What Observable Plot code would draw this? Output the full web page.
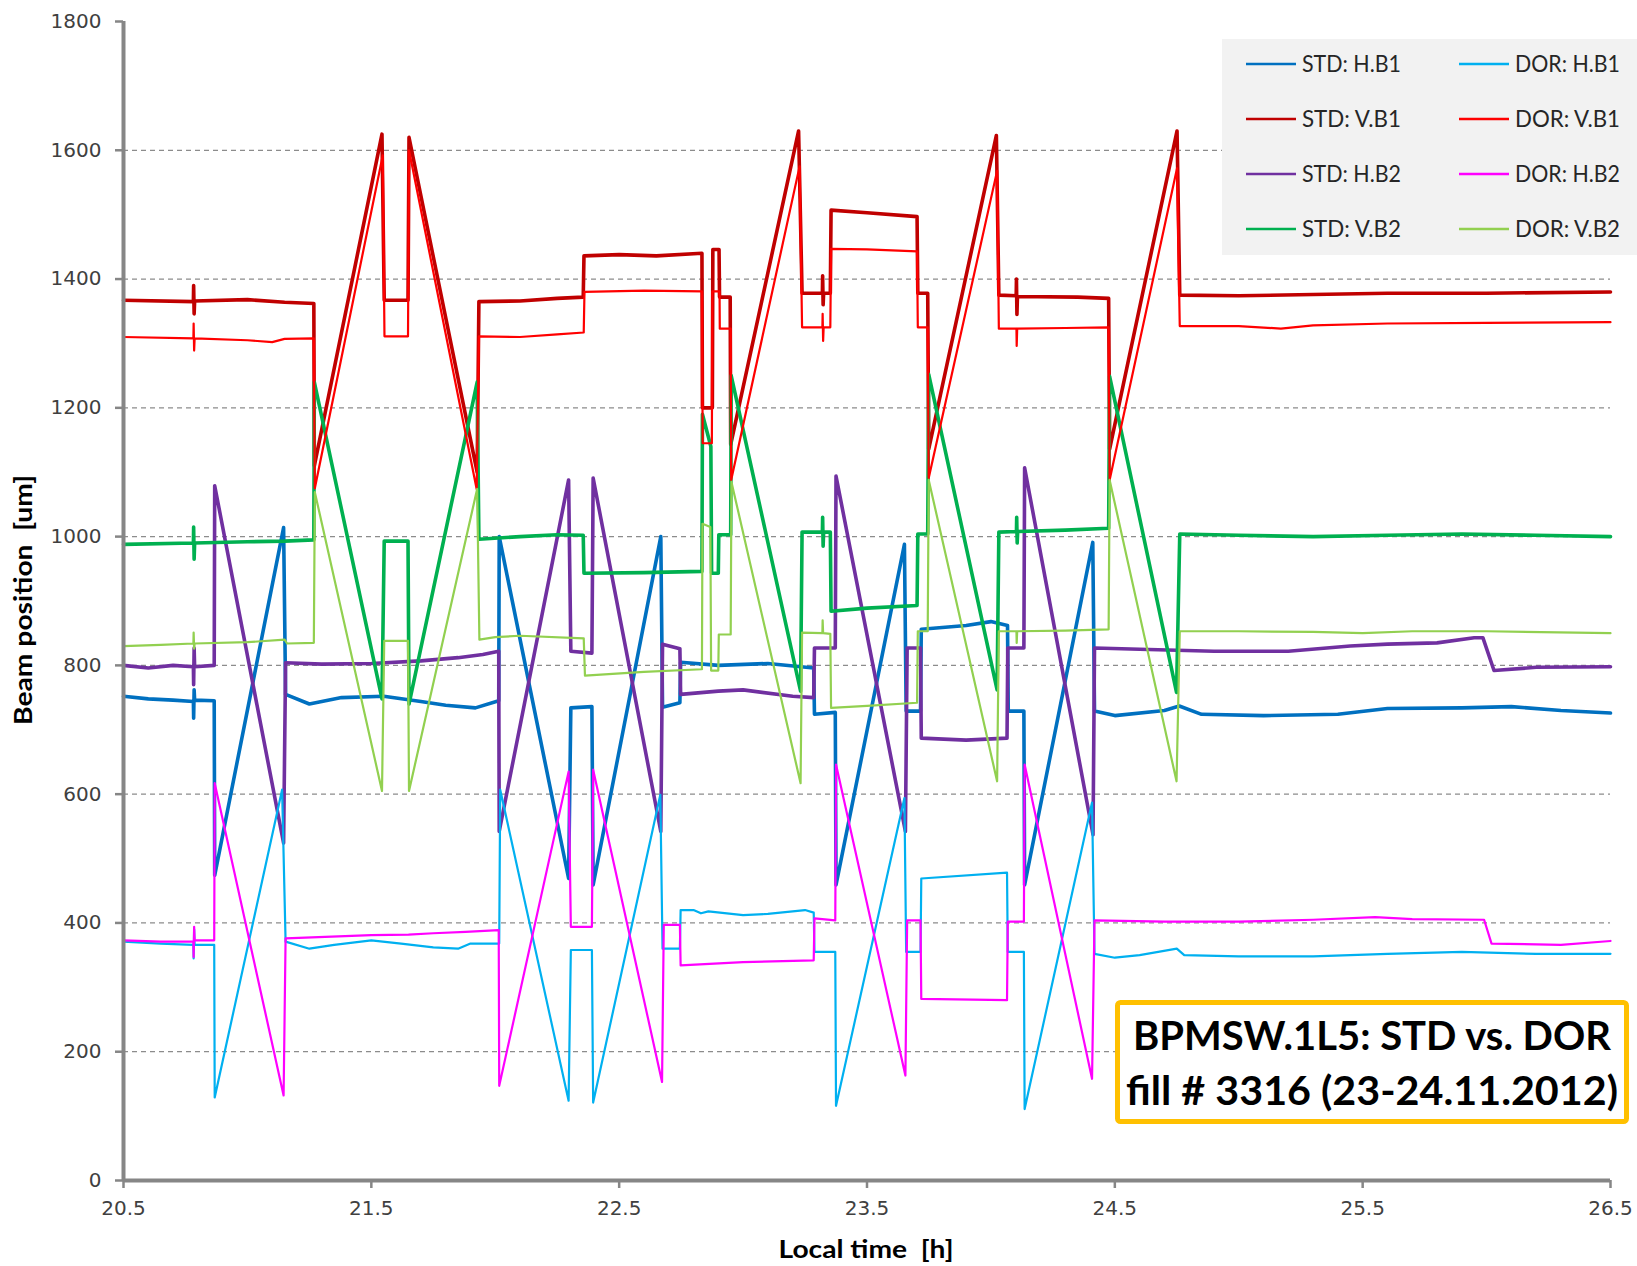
<!DOCTYPE html>
<html><head><meta charset="utf-8">
<script src="https://cdn.jsdelivr.net/npm/d3@7"></script>
<script src="https://cdn.jsdelivr.net/npm/@observablehq/plot@0.6"></script>
<style>
body{margin:0;background:#fff;}
#chart{position:relative;width:1637px;height:1266px;}
</style></head><body><div id="chart"></div>
<script>
// ---- axis ticks ----
const xTicks = [20.5, 21.5, 22.5, 23.5, 24.5, 25.5, 26.5];
const yTicks = [0, 200, 400, 600, 800, 1000, 1200, 1400, 1600, 1800];
const gridLines = [200, 400, 600, 800, 1000, 1200, 1400, 1600];

// ---- series: [local time h, beam position um] ----
const stdHB1 = [[20.5,752],[20.6,748],[20.7,746],[20.782,744],[20.783,718],[20.785,762],[20.787,746],[20.866,745],[20.868,474],[21.146,1014],[21.154,755],[21.25,740],[21.38,750],[21.55,752],[21.7,744],[21.8,738],[21.92,734],[22.014,745],
 [22.016,1000],[22.296,469],[22.305,734],[22.39,736],[22.395,459],[22.668,1000],[22.675,735],[22.745,742],[22.748,805],[22.9,800],[23.1,803],[23.285,796],[23.288,724],[23.372,727],[23.375,459],[23.651,988],[23.658,729],[23.716,729],[23.719,856],[23.9,862],[24.0,868],[24.067,862],[24.07,729],[24.133,729],[24.136,459],[24.411,991],[24.418,729],[24.5,722],[24.7,730],[24.76,737],[24.85,724],[25.1,722],[25.4,724],[25.6,733],[25.9,734],[26.1,736],[26.3,730],[26.5,726]];
const dorHB1 = [[20.5,371],[20.65,368],[20.782,366],[20.783,345],[20.785,390],[20.787,366],[20.866,366],[20.868,129],[21.14,607],[21.154,371],[21.25,360],[21.35,366],[21.5,373],[21.62,368],[21.75,362],[21.85,360],[21.9,368],[22.016,368],
 [22.02,607],[22.296,124],[22.305,358],[22.39,358],[22.395,121],[22.666,599],[22.675,360],[22.745,360],[22.748,420],[22.8,420],[22.83,415],[22.86,418],[23.0,412],[23.1,414],[23.25,420],[23.285,416],[23.288,355],[23.372,355],[23.375,116],[23.651,594],[23.658,355],[23.716,355],[23.719,469],[24.065,478],[24.068,355],[24.133,355],[24.136,111],[24.408,587],[24.418,352],[24.5,346],[24.6,350],[24.75,360],[24.78,350],[25.0,348],[25.3,348],[25.6,352],[25.9,355],[26.2,352],[26.5,352]];
const stdVB1 = [[20.5,1367],[20.782,1365],[20.783,1390],[20.785,1346],[20.787,1366],[21.0,1368],[21.15,1364],[21.268,1362],[21.27,1110],[21.543,1625],[21.552,1367],[21.648,1367],[21.652,1620],[21.927,1100],[21.934,1365],[22.1,1366],[22.25,1370],[22.355,1372],
 [22.358,1436],[22.5,1438],[22.65,1436],[22.834,1440],[22.836,1200],[22.876,1200],[22.878,1446],[22.903,1446],[22.905,1372],[22.948,1372],[22.95,1143],[23.224,1630],[23.238,1378],[23.32,1378],[23.321,1405],[23.323,1360],[23.325,1378],[23.352,1378],[23.355,1507],[23.5,1503],[23.702,1497],[23.705,1378],[23.745,1378],[23.749,1136],[24.022,1623],[24.032,1375],[24.102,1374],[24.103,1400],[24.105,1345],[24.107,1373],[24.35,1372],[24.475,1370],[24.479,1136],[24.751,1630],[24.762,1375],[25.0,1374],[25.3,1376],[25.6,1378],[26.0,1378],[26.5,1380]];
const dorVB1 = [[20.5,1310],[20.782,1308],[20.783,1331],[20.785,1289],[20.787,1308],[21.0,1305],[21.1,1302],[21.15,1307],[21.268,1308],[21.272,1075],[21.546,1592],[21.553,1311],[21.648,1311],[21.652,1600],[21.925,1074],[21.934,1311],[22.1,1310],[22.25,1314],[22.357,1317],
 [22.36,1380],[22.6,1382],[22.834,1381],[22.837,1145],[22.874,1145],[22.876,1381],[22.905,1381],[22.906,1323],[22.95,1323],[22.952,1088],[23.228,1575],[23.238,1325],[23.32,1325],[23.321,1346],[23.323,1304],[23.325,1325],[23.352,1325],[23.355,1447],[23.5,1446],[23.702,1443],[23.705,1325],[23.745,1325],[23.749,1091],[24.025,1568],[24.032,1323],[24.103,1323],[24.104,1296],[24.106,1323],[24.3,1324],[24.475,1325],[24.479,1088],[24.751,1572],[24.762,1327],[25.0,1327],[25.17,1323],[25.3,1328],[25.6,1331],[26.0,1332],[26.5,1333]];
const stdHB2 = [[20.5,800],[20.6,796],[20.7,800],[20.782,798],[20.783,770],[20.785,827],[20.787,798],[20.866,800],[20.868,1079],[21.146,524],[21.154,804],[21.3,802],[21.5,803],[21.7,807],[21.85,812],[21.95,817],[22.014,822],
 [22.016,542],[22.296,1088],[22.305,822],[22.39,819],[22.395,1091],[22.668,542],[22.675,833],[22.745,826],[22.748,755],[22.9,760],[23.0,762],[23.2,752],[23.285,750],[23.288,827],[23.372,827],[23.375,1094],[23.655,542],[23.662,827],[23.716,827],[23.719,687],[23.9,684],[24.065,687],[24.068,827],[24.133,827],[24.136,1107],[24.412,537],[24.418,827],[24.6,825],[24.9,822],[25.2,822],[25.45,830],[25.6,833],[25.8,835],[25.95,843],[25.985,843],[26.03,792],[26.2,797],[26.5,798]];
const dorHB2 = [[20.5,373],[20.65,371],[20.782,371],[20.783,347],[20.785,394],[20.787,373],[20.866,373],[20.868,617],[21.146,132],[21.154,376],[21.5,381],[21.65,382],[21.75,384],[21.88,386],[22.014,389],
 [22.016,147],[22.296,635],[22.305,394],[22.39,394],[22.395,638],[22.673,153],[22.68,397],[22.745,397],[22.748,334],[23.0,339],[23.285,342],[23.288,407],[23.372,404],[23.375,646],[23.655,163],[23.662,404],[23.716,404],[23.719,282],[24.065,280],[24.068,402],[24.133,402],[24.136,646],[24.408,158],[24.418,404],[24.7,402],[25.0,402],[25.3,405],[25.55,409],[25.7,406],[25.99,405],[26.02,368],[26.3,366],[26.5,372]];
const stdVB2 = [[20.5,988],[20.782,990],[20.783,1015],[20.785,965],[20.787,990],[21.0,992],[21.15,993],[21.268,995],[21.27,1240],[21.543,748],[21.552,993],[21.648,993],[21.652,740],[21.927,1240],[21.934,996],[22.1,1000],[22.25,1003],[22.355,1002],
 [22.358,943],[22.6,944],[22.834,946],[22.836,1190],[22.87,1140],[22.873,943],[22.9,943],[22.902,1003],[22.95,1003],[22.952,1250],[23.232,760],[23.238,1007],[23.32,1007],[23.321,1030],[23.323,985],[23.325,1007],[23.352,1007],[23.355,884],[23.5,889],[23.702,893],[23.705,1004],[23.745,1004],[23.749,1252],[24.025,762],[24.032,1007],[24.103,1008],[24.104,1030],[24.106,990],[24.108,1008],[24.3,1010],[24.475,1013],[24.479,1249],[24.749,758],[24.762,1004],[25.0,1002],[25.3,1000],[25.6,1002],[25.9,1004],[26.2,1002],[26.5,1000]];
const dorVB2 = [[20.5,830],[20.65,832],[20.782,834],[20.783,851],[20.785,826],[20.787,834],[21.0,836],[21.15,840],[21.16,834],[21.268,835],[21.272,1069],[21.543,605],[21.552,838],[21.648,838],[21.652,605],[21.927,1074],[21.936,840],[22.0,844],[22.1,846],[22.357,842],
 [22.362,784],[22.6,790],[22.834,794],[22.836,1020],[22.868,1015],[22.871,792],[22.9,792],[22.902,848],[22.95,848],[22.953,1085],[23.232,617],[23.238,851],[23.32,850],[23.321,870],[23.323,850],[23.352,849],[23.355,734],[23.5,737],[23.702,742],[23.705,853],[23.745,853],[23.749,1088],[24.025,620],[24.032,853],[24.103,853],[24.104,835],[24.106,853],[24.3,854],[24.475,856],[24.479,1088],[24.749,620],[24.762,853],[25.0,853],[25.3,852],[25.5,850],[25.7,853],[26.0,853],[26.5,850]];

const seriesNames = ["STD: H.B1","STD: V.B1","STD: H.B2","STD: V.B2","DOR: H.B1","DOR: V.B1","DOR: H.B2","DOR: V.B2"];
const seriesColors = ["#0070c0","#c00000","#7030a0","#00b050","#00b0f0","#ff0000","#ff00ff","#92d050"];
const seriesData = [stdHB1, stdVB1, stdHB2, stdVB2, dorHB1, dorVB1, dorHB2, dorVB2];
const legendRows = [["STD: H.B1","DOR: H.B1"],["STD: V.B1","DOR: V.B1"],["STD: H.B2","DOR: H.B2"],["STD: V.B2","DOR: V.B2"]];
const titleLines = ["BPMSW.1L5: STD vs. DOR", "fill # 3316 (23-24.11.2012)"];

const rows = seriesNames.flatMap((name, i) =>
  seriesData[i].map(([t, v]) => ({name, t, v, std: name.startsWith("STD")})));

const W = 1637, H = 1266;
const plot = Plot.plot({
  width: W, height: H,
  marginLeft: 123, marginRight: 27, marginTop: 21, marginBottom: 86,
  x: {domain: [20.5, 26.5]},
  y: {domain: [0, 1800]},
  color: {domain: seriesNames, range: seriesColors},
  style: {fontFamily: "DejaVu Sans, sans-serif", fontSize: "20px", background: "white", overflow: "visible"},
  marks: [
    Plot.ruleY(gridLines, {stroke: "#8c8c8c", strokeDasharray: "5,4", strokeWidth: 1.2}),
    Plot.line(rows.filter(d => d.std), {x: "t", y: "v", z: "name", stroke: "name", strokeWidth: 3.6, strokeLinejoin: "round"}),
    Plot.line(rows.filter(d => !d.std), {x: "t", y: "v", z: "name", stroke: "name", strokeWidth: 2.2, strokeLinejoin: "round"}),
    Plot.ruleX([20.5], {stroke: "#868686", strokeWidth: 4}),
    Plot.ruleY([0], {stroke: "#868686", strokeWidth: 4}),
    Plot.axisY(yTicks, {tickSize: 8, tickFormat: () => "", color: "#868686", strokeWidth: 2.5, label: null}),
    Plot.axisY(yTicks, {tickSize: 0, tickPadding: 22, tickFormat: d3.format("d"), color: "#404040", fontSize: 20, label: null}),
    Plot.axisX(xTicks, {tickSize: 8, tickFormat: () => "", color: "#868686", strokeWidth: 2.5, label: null}),
    Plot.axisX(xTicks, {tickSize: 0, tickPadding: 20, tickFormat: d3.format(".1f"), color: "#404040", fontSize: 20, label: null})
  ]
});
document.getElementById("chart").appendChild(plot);

const svg = d3.select(plot);
// axis titles
svg.append("text").attr("transform", "translate(24,600) rotate(-90)")
  .attr("text-anchor", "middle").attr("dy", "0.35em")
  .attr("font-family", "Lato, sans-serif").attr("font-weight", "bold").attr("font-size", 24)
  .attr("fill", "#000").attr("textLength", 250).attr("lengthAdjust", "spacingAndGlyphs")
  .text("Beam position  [um]");
svg.append("text").attr("x", 866).attr("y", 1250)
  .attr("text-anchor", "middle").attr("dy", "0.35em")
  .attr("font-family", "Lato, sans-serif").attr("font-weight", "bold").attr("font-size", 24)
  .attr("fill", "#000").attr("textLength", 175).attr("lengthAdjust", "spacingAndGlyphs")
  .text("Local time  [h]");

// legend
const lg = svg.append("g");
lg.append("rect").attr("x", 1222).attr("y", 39).attr("width", 415).attr("height", 216).attr("fill", "#f2f2f2");
const colX = [1246, 1459], rowY = [64, 119, 174, 229];
legendRows.forEach((r, ri) => r.forEach((name, ci) => {
  const c = seriesColors[seriesNames.indexOf(name)];
  lg.append("line").attr("x1", colX[ci]).attr("x2", colX[ci] + 50).attr("y1", rowY[ri]).attr("y2", rowY[ri])
    .attr("stroke", c).attr("stroke-width", 2.5);
  lg.append("text").attr("x", colX[ci] + 56).attr("y", rowY[ri]).attr("dy", "0.35em")
    .attr("text-anchor", "start")
    .attr("font-family", "Lato, sans-serif").attr("font-size", 23).attr("fill", "#262626")
    .attr("textLength", ci === 0 ? 99 : 105).attr("lengthAdjust", "spacingAndGlyphs").text(name);
}));

// title box
const tb = svg.append("g");
tb.append("rect").attr("x", 1117.5).attr("y", 1002.5).attr("width", 509).attr("height", 119).attr("rx", 3)
  .attr("fill", "#fff").attr("stroke", "#ffc000").attr("stroke-width", 5);
tb.append("text").attr("x", 1372).attr("y", 1050).attr("text-anchor", "middle")
  .attr("font-family", "Lato, sans-serif").attr("font-weight", "bold").attr("font-size", 40)
  .attr("textLength", 478).attr("lengthAdjust", "spacingAndGlyphs").attr("fill", "#000").text(titleLines[0]);
tb.append("text").attr("x", 1372).attr("y", 1105).attr("text-anchor", "middle")
  .attr("font-family", "Lato, sans-serif").attr("font-weight", "bold").attr("font-size", 40)
  .attr("textLength", 492).attr("lengthAdjust", "spacingAndGlyphs").attr("fill", "#000").text(titleLines[1]);
</script>
</body></html>
